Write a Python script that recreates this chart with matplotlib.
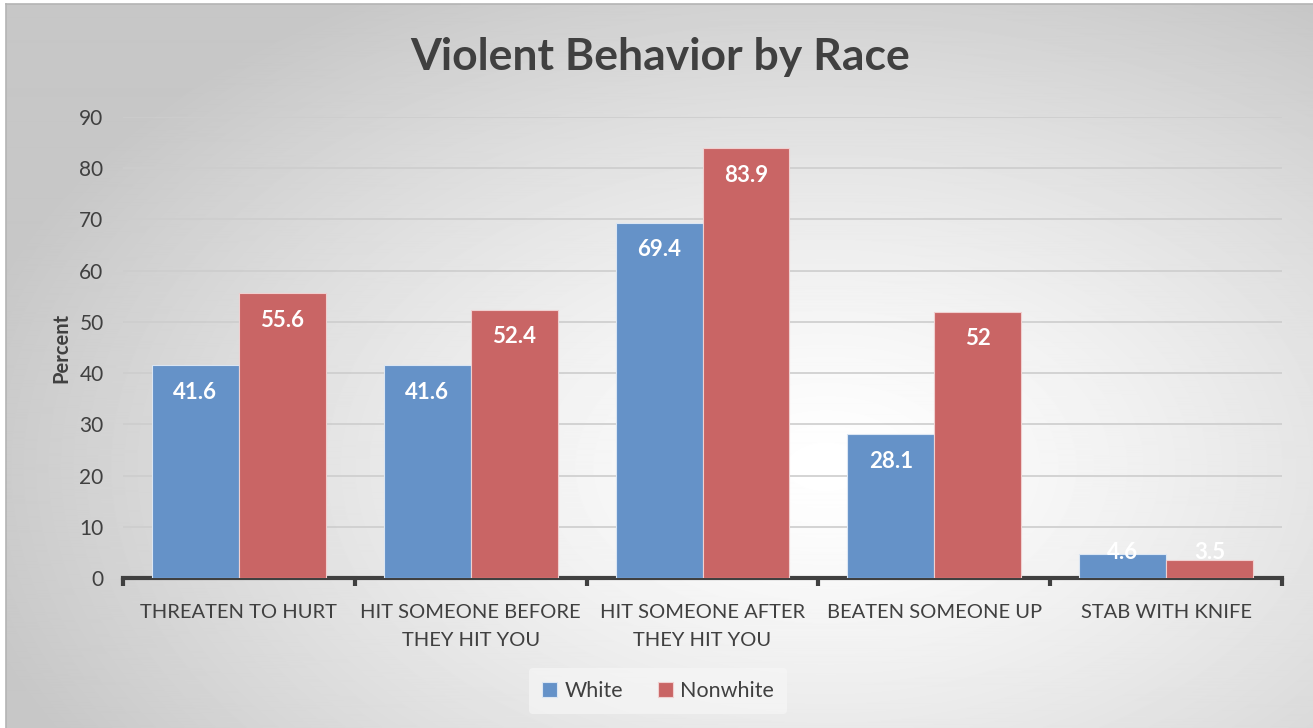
import numpy as np
import matplotlib
matplotlib.use("Agg")
import matplotlib.pyplot as plt

plt.rcParams['font.family'] = ['Lato', 'DejaVu Sans']

categories = ["THREATEN TO HURT", "HIT SOMEONE BEFORE\nTHEY HIT YOU",
              "HIT SOMEONE AFTER\nTHEY HIT YOU", "BEATEN SOMEONE UP",
              "STAB WITH KNIFE"]
white = [41.6, 41.6, 69.4, 28.1, 4.6]
nonwhite = [55.6, 52.4, 83.9, 52, 3.5]
series_names = ["White", "Nonwhite"]
yticks = [0, 10, 20, 30, 40, 50, 60, 70, 80, 90]

blue = "#6592c8"
red = "#c96565"
text_col = "#404040"

W, H = 1313, 728
fig = plt.figure(figsize=(W / 100, H / 100), dpi=100)
fig.patch.set_facecolor("white")

# radial grey-to-white backdrop of the chart area
bg = fig.add_axes([6 / W, 0, 1 - 6 / W, 1 - 4 / H])
yy, xx = np.mgrid[0:720, 0:1307]
cx, cy = 820, 460
r = np.sqrt(((xx - cx) / 1000.0) ** 2 + ((yy - cy) / 620.0) ** 2)
shade = np.clip(1.0 - 0.26 * r ** 1.3, 0.78, 1.0)
bg.imshow(shade, cmap="gray", vmin=0, vmax=1, aspect="auto",
          extent=[0, 1, 0, 1], origin="upper", interpolation="bilinear")
bg.set_xticks([])
bg.set_yticks([])
for s in bg.spines.values():
    s.set_color("#b4b4b4")
    s.set_linewidth(1.2)
bg.spines["bottom"].set_visible(False)
bg.spines["right"].set_visible(False)

# plot area: x 123..1282, y 117..578 px
ax = fig.add_axes([123 / W, 1 - 578 / H, (1282 - 123) / W, (578 - 117) / H])
ax.patch.set_alpha(0)

x = np.arange(len(categories))
bw = 0.375
ax.bar(x - bw / 2, white, bw, color=blue, edgecolor="#dbe6f3",
       linewidth=0.8, zorder=3, label=series_names[0])
ax.bar(x + bw / 2, nonwhite, bw, color=red, edgecolor="#f0d0d0",
       linewidth=0.8, zorder=3, label=series_names[1])

for vals, offs in ((white, -bw / 2), (nonwhite, bw / 2)):
    for xi, v in zip(x, vals):
        ax.text(xi + offs, max(v - 5.3, 4.9), f"{v:g}", ha="center",
                va="center", color="white", fontsize=16, fontweight="bold",
                zorder=4)

ax.set_xlim(-0.5, len(categories) - 0.5)
ax.set_ylim(0, 90)
ax.set_yticks(yticks)
ax.yaxis.grid(True, color="#cdcdcd", linewidth=1.2, zorder=0)
ax.set_axisbelow(True)
ax.tick_params(axis="y", length=0, pad=14, labelsize=15, labelcolor=text_col)

ax.set_xticks(x)
ax.set_xticklabels(categories, fontsize=14.5, color=text_col, linespacing=1.75)
ax.tick_params(axis="x", length=0, pad=19)
ax.set_xticks(np.arange(len(categories) + 1) - 0.5, minor=True)
ax.tick_params(axis="x", which="minor", length=6, width=3, color=text_col,
               direction="out")

for side in ("top", "right", "left"):
    ax.spines[side].set_visible(False)
ax.spines["bottom"].set_color(text_col)
ax.spines["bottom"].set_linewidth(3)

ax.set_ylabel("Percent", fontsize=14.5, fontweight="bold", color=text_col,
              labelpad=6)

fig.text(0.503, 1 - 57 / H, "Violent Behavior by Race", ha="center",
         va="center", fontsize=32, fontweight="bold", color=text_col)

leg = fig.legend(loc="center", bbox_to_anchor=(658 / W, 1 - 691 / H), ncol=2,
                 frameon=True, fontsize=15.5, handlelength=0.7,
                 handleheight=0.7, handletextpad=0.35, columnspacing=1.6,
                 borderpad=0.6)
leg.get_frame().set_facecolor("#f6f6f6")
leg.get_frame().set_edgecolor("none")
leg.get_frame().set_alpha(0.7)
for t in leg.get_texts():
    t.set_color(text_col)

fig.savefig("out.png", dpi=100)
